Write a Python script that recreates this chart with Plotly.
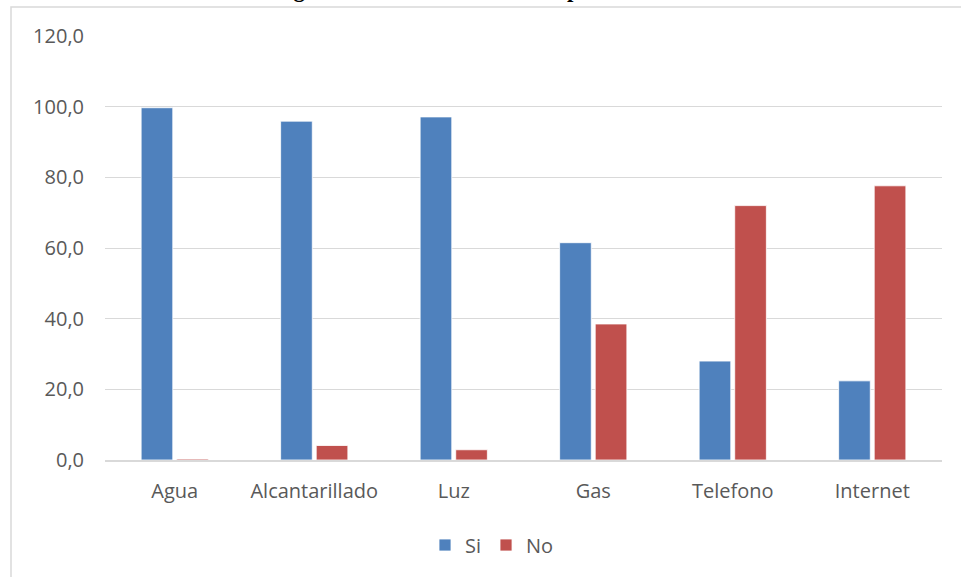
import plotly.graph_objects as go

categories = ["Agua", "Alcantarillado", "Luz", "Gas", "Telefono", "Internet"]
si_values = [99.7, 95.9, 97.1, 61.5, 28.0, 22.4]
no_values = [0.3, 4.1, 2.9, 38.5, 72.0, 77.6]
y_ticks = [0, 20, 40, 60, 80, 100, 120]
y_tick_labels = ["0,0", "20,0", "40,0", "60,0", "80,0", "100,0", "120,0"]
title_text = "Hogares con acceso a servicios públicos"

W, H = 961, 577
L, R, T, B = 105, 19, 36, 117
pw, ph = W - L - R, H - T - B

def px_x(p):
    return (p - L) / pw

def px_y(p):
    return (H - B - p) / ph

fig = go.Figure()
fig.add_trace(go.Bar(name="Si", x=categories, y=si_values,
                     marker=dict(color="#4F81BD", line=dict(color="#FFFFFF", width=0.8))))
fig.add_trace(go.Bar(name="No", x=categories, y=no_values,
                     marker=dict(color="#C0504D", line=dict(color="#FFFFFF", width=0.8))))

font_family = "'Open Sans', 'Noto Sans', sans-serif"
fs = 20

fig.update_layout(
    width=W, height=H,
    margin=dict(l=L, r=R, t=T, b=B),
    paper_bgcolor="#FFFFFF", plot_bgcolor="#FFFFFF",
    barmode="group", bargap=0.49, bargroupgap=0.11,
    font=dict(family=font_family, size=fs, color="#595959"),
    showlegend=True,
    legend=dict(orientation="h", x=px_x(492), y=px_y(545), xanchor="center", yanchor="middle",
                font=dict(size=fs, color="#595959"), itemwidth=30, traceorder="normal"),
    xaxis=dict(showgrid=False, showline=True, linecolor="#D9D9D9", linewidth=1.5,
               ticks="", ticklabelstandoff=12, tickfont=dict(size=fs, color="#595959"),
               automargin=False),
    yaxis=dict(range=[0, 120], tickvals=y_ticks, ticktext=y_tick_labels,
               showgrid=True, gridcolor="#D9D9D9", gridwidth=1, zeroline=False,
               showline=False, ticks="", ticklabelstandoff=20,
               tickfont=dict(size=fs, color="#595959"), automargin=False),
    shapes=[dict(type="rect", xref="paper", yref="paper",
                 x0=px_x(11), x1=px_x(1010), y0=px_y(650), y1=px_y(7),
                 line=dict(color="#D9D9D9", width=1.5), fillcolor="rgba(0,0,0,0)", layer="below")],
    annotations=[dict(text="<b>" + title_text + "</b>", xref="paper", yref="paper",
                      x=px_x(262), y=px_y(4), xanchor="left", yanchor="bottom", showarrow=False,
                      font=dict(family="'Liberation Serif', 'Times New Roman', serif", size=23,
                                color="#000000"))],
)

fig.write_html("out.html", config={"displayModeBar": False},
               post_script="document.body.style.margin='0';document.body.style.overflow='hidden';")
